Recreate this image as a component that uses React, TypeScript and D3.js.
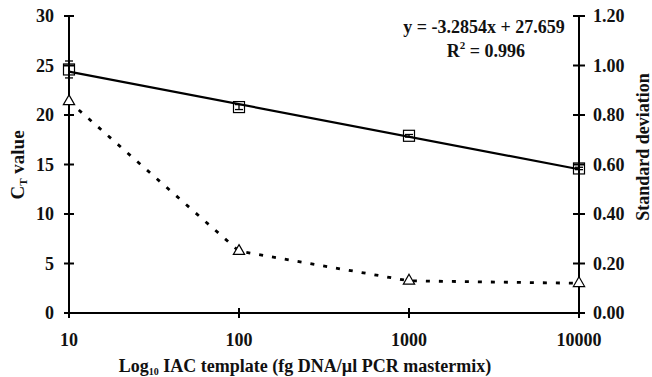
import { useEffect, useRef } from "react"
import * as d3 from "d3"

// template amounts (fg DNA/µl)
const templates = [10, 100, 1000, 10000]
// mean CT values (squares)
const ctValues = [24.6, 20.8, 17.9, 14.6]
// standard deviation (triangles, right axis) - also used as error bars
const sdValues = [0.855, 0.25, 0.13, 0.12]
// regression y = slope * log10(x) + intercept
const slope = -3.2854
const intercept = 27.659
const leftTicks = [0, 5, 10, 15, 20, 25, 30]
const rightTicks = [0, 0.2, 0.4, 0.6, 0.8, 1.0, 1.2]

export default function App() {
  const svgRef = useRef<SVGSVGElement | null>(null)

  useEffect(() => {
    if (!svgRef.current) return
    const svg = d3.select(svgRef.current)
    svg.selectAll("*").remove()

    const font = "'Liberation Serif', 'Times New Roman', serif"
    const left = 69
    const right = 579
    const top = 16
    const bottom = 313

    const x = d3.scaleLog().domain([10, 10000]).range([left, right])
    const yL = d3.scaleLinear().domain([0, 30]).range([bottom, top])
    const yR = d3.scaleLinear().domain([0, 1.2]).range([bottom, top])

    const g = svg.append("g").attr("font-family", font).attr("font-weight", "bold").attr("fill", "#111")

    // axes lines
    g.append("line").attr("x1", left).attr("x2", left).attr("y1", top).attr("y2", bottom)
      .attr("stroke", "#000").attr("stroke-width", 2)
    g.append("line").attr("x1", right).attr("x2", right).attr("y1", top).attr("y2", bottom)
      .attr("stroke", "#000").attr("stroke-width", 2)
    g.append("line").attr("x1", left).attr("x2", right).attr("y1", bottom).attr("y2", bottom)
      .attr("stroke", "#000").attr("stroke-width", 2)

    // left ticks
    leftTicks.forEach((t) => {
      g.append("line").attr("x1", left - 5).attr("x2", left + 5)
        .attr("y1", yL(t)).attr("y2", yL(t)).attr("stroke", "#000").attr("stroke-width", 2)
      g.append("text").attr("x", 54).attr("y", yL(t)).attr("dy", "0.35em")
        .attr("text-anchor", "end").attr("font-size", 18).text(t)
    })

    // right ticks
    rightTicks.forEach((t) => {
      g.append("line").attr("x1", right - 6).attr("x2", right + 6)
        .attr("y1", yR(t)).attr("y2", yR(t)).attr("stroke", "#000").attr("stroke-width", 2)
      g.append("text").attr("x", 593).attr("y", yR(t)).attr("dy", "0.35em")
        .attr("text-anchor", "start").attr("font-size", 18).text(d3.format(".2f")(t))
    })

    // x ticks
    templates.forEach((t) => {
      g.append("line").attr("x1", x(t)).attr("x2", x(t))
        .attr("y1", bottom - 5).attr("y2", bottom + 5).attr("stroke", "#000").attr("stroke-width", 2)
      g.append("text").attr("x", x(t)).attr("y", 346)
        .attr("text-anchor", "middle").attr("font-size", 18).text(t)
    })

    // regression line
    const reg = d3.line<number>()
      .x((d) => x(d))
      .y((d) => yL(slope * Math.log10(d) + intercept))
    g.append("path").datum([10, 10000]).attr("d", reg)
      .attr("fill", "none").attr("stroke", "#000").attr("stroke-width", 2.2)

    // SD dashed line
    const sdLine = d3.line<number>()
      .x((_, i) => x(templates[i]))
      .y((d) => yR(d))
    g.append("path").datum(sdValues).attr("d", sdLine)
      .attr("fill", "none").attr("stroke", "#000").attr("stroke-width", 2.8)
      .attr("stroke-dasharray", "4 9")

    // error bars
    templates.forEach((t, i) => {
      const cx = x(t)
      const y1 = yL(ctValues[i] + sdValues[i])
      const y2 = yL(ctValues[i] - sdValues[i])
      g.append("line").attr("x1", cx).attr("x2", cx).attr("y1", y1).attr("y2", y2)
        .attr("stroke", "#000").attr("stroke-width", 1.3)
      ;[y1, y2].forEach((yy) => {
        g.append("line").attr("x1", cx - 4).attr("x2", cx + 4).attr("y1", yy).attr("y2", yy)
          .attr("stroke", "#000").attr("stroke-width", 1.3)
      })
    })

    // square markers
    templates.forEach((t, i) => {
      g.append("rect").attr("x", x(t) - 5.5).attr("y", yL(ctValues[i]) - 5.5)
        .attr("width", 11).attr("height", 11)
        .attr("fill", "none").attr("stroke", "#000").attr("stroke-width", 1.2)
    })

    // triangle markers
    const tri = d3.symbol().type(d3.symbolTriangle).size(55)
    templates.forEach((t, i) => {
      g.append("path").attr("d", tri()).attr("transform", `translate(${x(t)},${yR(sdValues[i])})`)
        .attr("fill", "#fff").attr("stroke", "#000").attr("stroke-width", 1.2)
    })

    // equation
    g.append("text").attr("x", 484).attr("y", 33).attr("text-anchor", "middle")
      .attr("font-size", 18).text(`y = ${slope}x + ${intercept}`)
    const r2 = g.append("text").attr("x", 486).attr("y", 57).attr("text-anchor", "middle")
      .attr("font-size", 18)
    r2.append("tspan").text("R")
    r2.append("tspan").attr("font-size", 11).attr("dy", -8).text("2")
    r2.append("tspan").attr("dy", 8).text(" = 0.996")

    // x title
    const xt = g.append("text").attr("x", 305).attr("y", 372).attr("text-anchor", "middle")
      .attr("font-size", 18)
    xt.append("tspan").text("Log")
    xt.append("tspan").attr("font-size", 10).attr("dy", 3).text("10")
    xt.append("tspan").attr("dy", -3).text(" IAC template (fg DNA/µl PCR mastermix)")

    // left title
    const lt = g.append("text").attr("transform", `translate(24,165) rotate(-90)`)
      .attr("text-anchor", "middle").attr("font-size", 19)
    lt.append("tspan").text("C")
    lt.append("tspan").attr("font-size", 11).attr("dy", 3).text("T")
    lt.append("tspan").attr("dy", -3).text(" value")

    // right title
    g.append("text").attr("transform", `translate(649,147) rotate(-90)`)
      .attr("text-anchor", "middle").attr("font-size", 18).text("Standard deviation")
  }, [])

  return (
    <svg
      ref={svgRef}
      width={652}
      height={377}
      style={{ position: "absolute", left: 0, top: 0, background: "#fff" }}
    ></svg>
  )
}
